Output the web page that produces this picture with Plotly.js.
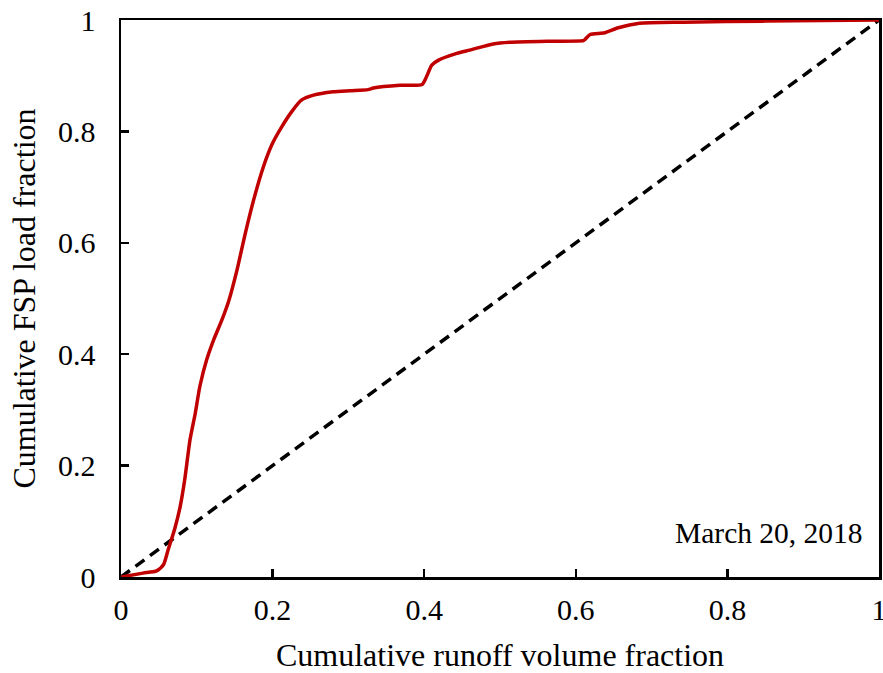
<!DOCTYPE html>
<html>
<head>
<meta charset="utf-8">
<script src="https://cdn.plot.ly/plotly-3.0.1.min.js"></script>
<style>html,body{margin:0;padding:0;background:#fff;}#chart{width:883px;height:673px;}</style>
</head>
<body>
<div id="chart"></div>
<script>
const runoffFraction = [0, 0.029, 0.047, 0.056, 0.062, 0.071, 0.078, 0.084, 0.091, 0.098, 0.104, 0.113, 0.122, 0.133, 0.142, 0.153, 0.164, 0.175, 0.188, 0.199, 0.212, 0.225, 0.238, 0.254, 0.280, 0.302, 0.326, 0.333, 0.368, 0.397, 0.403, 0.410, 0.419, 0.443, 0.460, 0.491, 0.513, 0.566, 0.610, 0.612, 0.619, 0.638, 0.656, 0.684, 0.742, 0.850, 1.0];
const loadFraction   = [0, 0.007, 0.011, 0.022, 0.048, 0.087, 0.126, 0.174, 0.246, 0.294, 0.342, 0.390, 0.425, 0.461, 0.495, 0.551, 0.617, 0.677, 0.737, 0.776, 0.808, 0.835, 0.856, 0.865, 0.871, 0.873, 0.875, 0.878, 0.883, 0.884, 0.898, 0.919, 0.928, 0.940, 0.946, 0.957, 0.960, 0.962, 0.963, 0.965, 0.974, 0.977, 0.986, 0.994, 0.996, 0.998, 1.0];
const lineX = [0, 1];
const lineY = [0, 1];
const tickVals = [0, 0.2, 0.4, 0.6, 0.8, 1];
const tickText = ["0", "0.2", "0.4", "0.6", "0.8", "1"];
const dateLabel = "March 20, 2018";

const font = "Liberation Serif, Times New Roman, serif";

const traces = [
  {x: lineX, y: lineY, mode: "lines", line: {color: "#000000", width: 3.5, dash: "11px,7px"}, hoverinfo: "skip"},
  {x: runoffFraction, y: loadFraction, mode: "lines", line: {color: "#C00000", width: 3.5, shape: "spline", smoothing: 0.6}}
];

const axisCommon = {
  range: [0, 1],
  tickvals: tickVals,
  ticktext: tickText,
  ticks: "inside",
  ticklen: 8,
  tickwidth: 2.5,
  tickcolor: "#000",
  showline: true,
  linecolor: "#000",
  linewidth: 2.5,
  mirror: true,
  showgrid: false,
  zeroline: false,
  ticklabeloverflow: "allow",
  tickfont: {family: font, size: 30, color: "#000"}
};

const layout = {
  width: 883, height: 673,
  margin: {l: 121, r: 4, t: 20, b: 96},
  paper_bgcolor: "#fff",
  plot_bgcolor: "#fff",
  showlegend: false,
  font: {family: font, color: "#000"},
  xaxis: Object.assign({}, axisCommon, {ticklabelstandoff: 4, title: {text: "Cumulative runoff volume fraction", font: {family: font, size: 32, color: "#000"}, standoff: 19}}),
  yaxis: Object.assign({}, axisCommon, {ticklabelstandoff: 17, title: {text: "Cumulative FSP load fraction", font: {family: font, size: 32, color: "#000"}, standoff: 13}}),
  annotations: [{
    text: dateLabel, x: 0.981, y: 0.079, xref: "x", yref: "y", xanchor: "right", yanchor: "middle",
    showarrow: false, font: {family: font, size: 29.5, color: "#000"}
  }]
};

Plotly.newPlot("chart", traces, layout, {displayModeBar: false, staticPlot: true});
</script>
</body>
</html>
